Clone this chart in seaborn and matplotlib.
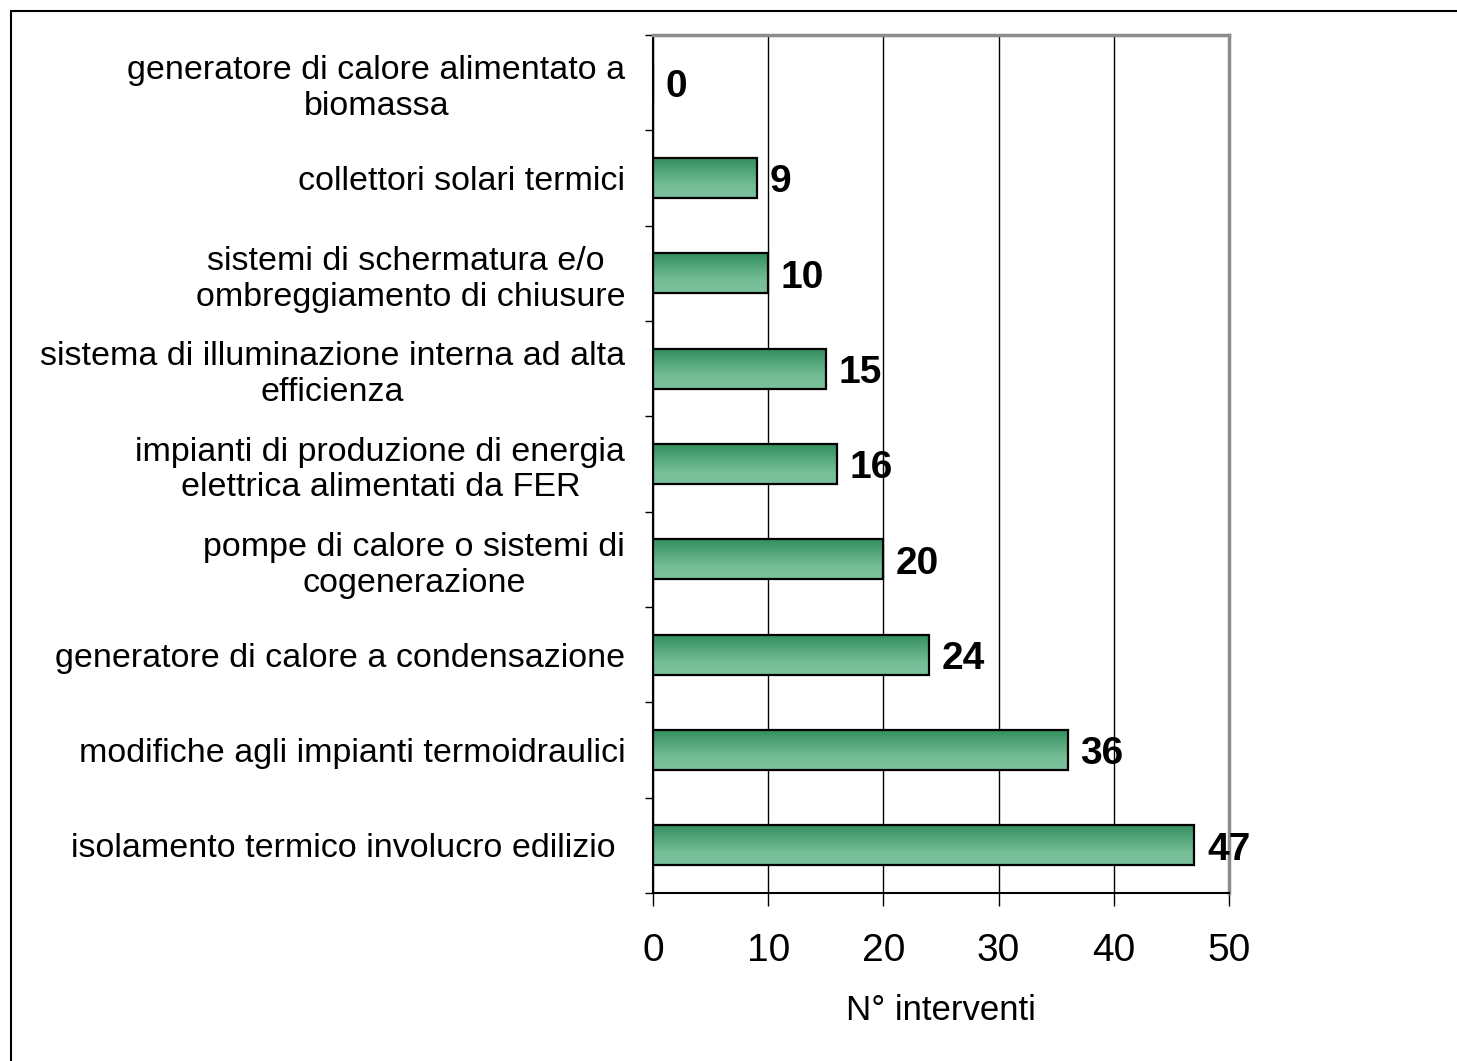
import numpy as np
import pandas as pd
import matplotlib
matplotlib.use("Agg")
import matplotlib.pyplot as plt
import seaborn as sns
from matplotlib.colors import LinearSegmentedColormap
from matplotlib.patches import Rectangle

# --- data ---
categories = [
    "generatore di calore alimentato a\nbiomassa",
    "collettori solari termici",
    "sistemi di schermatura e/o \nombreggiamento di chiusure",
    "sistema di illuminazione interna ad alta\nefficienza",
    "impianti di produzione di energia\nelettrica alimentati da FER",
    "pompe di calore o sistemi di\ncogenerazione",
    "generatore di calore a condensazione",
    "modifiche agli impianti termoidraulici",
    "isolamento termico involucro edilizio ",
]
interventi = [0, 9, 10, 15, 16, 20, 24, 36, 47]
x_ticks = [0, 10, 20, 30, 40, 50]

df = pd.DataFrame({"categoria": categories, "n": interventi})

# --- style ---
sns.set_style("white")
plt.rcParams['font.family'] = ['Liberation Sans', 'DejaVu Sans']
plt.rcParams['text.color'] = 'black'
plt.rcParams['axes.labelcolor'] = 'black'
plt.rcParams['xtick.color'] = 'black'
plt.rcParams['ytick.color'] = 'black'

W, H = 1457, 1061
fig = plt.figure(figsize=(W / 100, H / 100), dpi=100)
ax = fig.add_axes([653 / W, 1 - 893 / H, (1229 - 653) / W, (893 - 35) / H])

sns.barplot(data=df, y="categoria", x="n", orient="h", width=0.42,
            color="#5aa97f", edgecolor="black", linewidth=1.6, ax=ax)

# green vertical gradient inside each bar
green = LinearSegmentedColormap.from_list(
    "bar_green", [(0, "#318e5d"), (0.7, "#76be97"), (1, "#7cc29d")])
grad = np.linspace(0, 1, 64).reshape(-1, 1)
for patch in ax.patches:
    bb = patch.get_bbox()
    if bb.width <= 0:
        continue
    patch.set_facecolor("none")
    patch.set_zorder(3)
    img = ax.imshow(grad, cmap=green, aspect="auto", origin="upper",
                    extent=(bb.x0, bb.x1, bb.y1, bb.y0), zorder=2)
    img.set_clip_path(patch)

labels = ax.bar_label(ax.containers[0], padding=9, fontsize=28,
                      fontweight="bold", color="black")
for t in labels:
    t.set_y(-3)  # sits a little lower in the original

ax.set_xlim(0, 50)
ax.set_ylim(8.5, -0.5)
ax.set_xticks(x_ticks)
ax.set_axisbelow(True)
ax.xaxis.grid(True, color="black", linewidth=1.0)

# axes frame
for side in ["top", "right"]:
    ax.spines[side].set_color("#8c8c8c")
    ax.spines[side].set_linewidth(2.5)
for side in ["left", "bottom"]:
    ax.spines[side].set_color("black")
    ax.spines[side].set_linewidth(1.5)

ax.tick_params(axis="x", bottom=True, direction="out", length=9, width=1,
               labelsize=28, pad=20)
ax.tick_params(axis="y", which="major", left=False, length=0, labelsize=24.5,
               pad=20)
ax.set_yticks(np.arange(-0.5, len(categories)), minor=True)
ax.tick_params(axis="y", which="minor", left=True, direction="out", length=6,
               width=1)
for lbl in ax.get_yticklabels():
    lbl.set_multialignment("center")

ax.set_ylabel("")
ax.set_xlabel("N° interventi", fontsize=25, labelpad=18)

# outer chart border (cut by the image edges)
fig.add_artist(Rectangle((11 / W, -0.05), 2, 1 - 11 / H + 0.05,
                         transform=fig.transFigure, fill=False,
                         edgecolor="black", linewidth=1.5))

fig.savefig("out.png", dpi=100, facecolor="white")
